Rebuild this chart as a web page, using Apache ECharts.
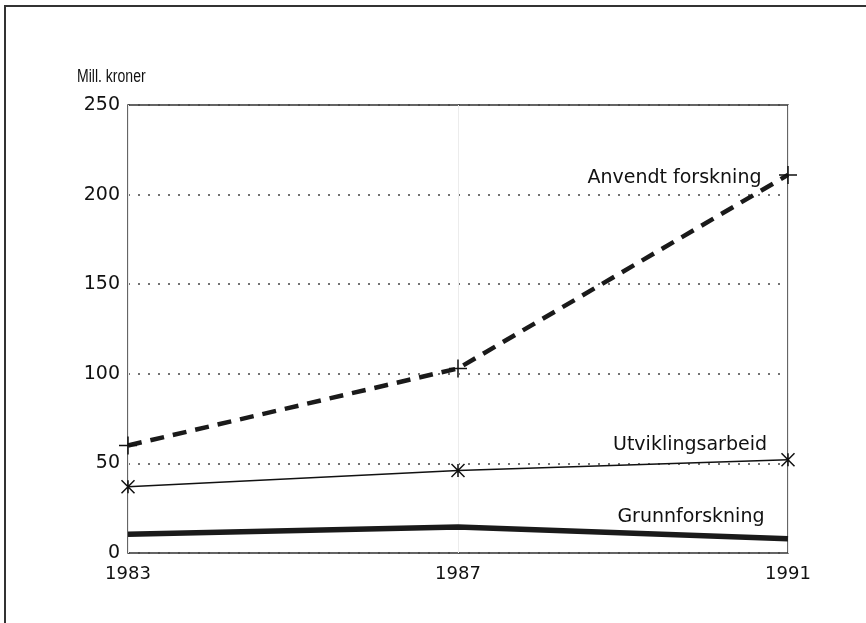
<!DOCTYPE html>
<html>
<head>
<meta charset="utf-8">
<script src="https://cdn.jsdelivr.net/npm/echarts@6/dist/echarts.min.js"></script>
<style>
  html, body { margin: 0; padding: 0; background: #fff; }
  #plot { width: 866px; height: 623px; }
</style>
</head>
<body>
<div id="plot"></div>
<script>
// Chart data
const years = ["1983", "1987", "1991"];
const anvendt = [60, 103, 211];
const utvikling = [37, 46, 52];
const grunn = [10.5, 14.5, 8];
const seriesNames = ["Anvendt forskning", "Utviklingsarbeid", "Grunnforskning"];
const yTicks = [0, 50, 100, 150, 200, 250];

const ink = "#111";
const labelFont = "DejaVu Sans";

// Put the series name next to the last point
function withEndLabel (values, distance, offset) {
    return values.map((v, i) => {
        if (i < values.length - 1) return v;
        return {
            value: v,
            label: {
                show: true,
                formatter: "{a}",
                position: "left",
                distance: distance,
                offset: offset,
                color: ink,
                fontFamily: labelFont,
                fontSize: 19
            }
        };
    });
}

const plotElement = document.getElementById("plot");
const chart = echarts.init(plotElement, null, { renderer: "canvas" });

const option = {
    animation: false,
    backgroundColor: "#fff",

    graphic: [
        // Frame around the figure
        {
            type: "rect",
            shape: { x: 5, y: 6, width: 900, height: 700 },
            style: { fill: "none", stroke: "#333", lineWidth: 2 },
            silent: true
        },
        // Unit text, condensed like the original
        {
            type: "text",
            x: 77,
            y: 68,
            scaleX: 0.78,
            style: {
                text: "Mill. kroner",
                font: "18px 'Liberation Sans'",
                fill: ink
            },
            silent: true
        }
    ],

    grid: {
        left: 128,
        right: 78,
        top: 105,
        bottom: 70,
        show: true,
        borderColor: "#333",
        borderWidth: 1.5
    },

    xAxis: {
        type: "category",
        data: years,
        boundaryGap: false,
        axisLine: { show: false },
        axisTick: { show: false },
        axisLabel: {
            margin: 12,
            color: ink,
            fontFamily: labelFont,
            fontSize: 18
        },
        splitLine: {
            show: true,
            lineStyle: { color: "#ececec", width: 1 }
        }
    },

    yAxis: {
        type: "value",
        min: yTicks[0],
        max: yTicks[yTicks.length - 1],
        interval: 50,
        axisLine: { show: false },
        axisTick: { show: false },
        axisLabel: {
            margin: 8,
            color: ink,
            fontFamily: labelFont,
            fontSize: 19
        },
        splitLine: {
            show: true,
            lineStyle: { color: "#444", width: 1.5, type: [2, 8] }
        }
    },

    series: [
        {
            name: seriesNames[0],
            type: "line",
            clip: false,
            data: withEndLabel(anvendt, 15, [0, 3]),
            symbol: "path://M0,10L20,10M10,0L10,20",
            symbolSize: 18,
            itemStyle: { color: "none", borderColor: ink, borderWidth: 1.5 },
            lineStyle: { color: "#1a1a1a", width: 4.5, type: [14, 9] },
            z: 3
        },
        {
            name: seriesNames[1],
            type: "line",
            clip: false,
            data: withEndLabel(utvikling, 12, [0, -15]),
            symbol: "path://M0,0L12,12M12,0L0,12M6,0L6,12",
            symbolSize: 13,
            itemStyle: { color: "none", borderColor: ink, borderWidth: 1.5 },
            lineStyle: { color: ink, width: 1.5 },
            z: 3
        },
        {
            name: seriesNames[2],
            type: "line",
            clip: false,
            data: withEndLabel(grunn, 23, [0, -22]),
            symbol: "circle",
            symbolSize: 1,
            itemStyle: { color: "rgba(0,0,0,0)" },
            lineStyle: { color: "#1a1a1a", width: 5.5 },
            z: 3
        }
    ]
};

chart.setOption(option);
</script>
</body>
</html>
